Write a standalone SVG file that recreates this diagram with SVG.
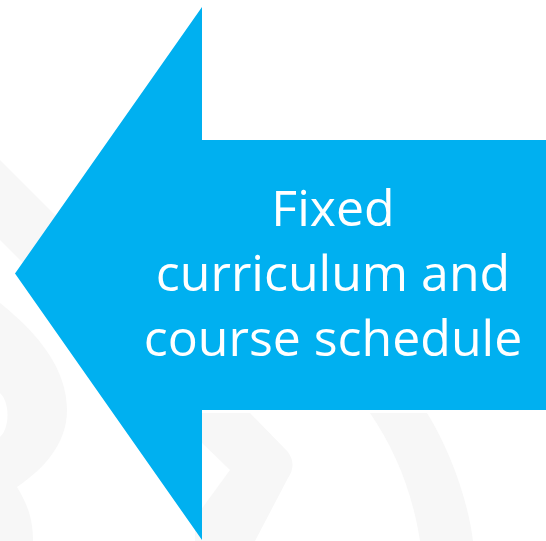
<svg xmlns="http://www.w3.org/2000/svg" width="546" height="541" viewBox="0 0 546 541">
<style>
.wm{fill:#f7f7f7}
.arrow{fill:#00b0f0}
.lbl{fill:#ffffff;font-family:"Open Sans","Liberation Sans",sans-serif;font-size:50px;text-anchor:middle}
</style>
<rect width="546" height="541" fill="#ffffff"/>
<g id="watermark">
<polygon class="wm" points="0,160 100,260 60,300 0,240"/>
<path class="wm" d="M0,303 C40,335 67,370 67,410 C67,445 42,470 17,487 C28,505 33,520 33,541 L0,541 Z"/>
<path fill="#ffffff" d="M0,393 C10,402 10,428 0,437 Z"/>
<path class="wm" d="M195,413 L250,413 L288,452 Q297,465 288,478 L255,541 L195,541 Z"/>
<polygon fill="#ffffff" points="195,436 230,470 195,518"/>
<path class="wm" d="M370,413 L427,413 C450,450 468,500 473,541 L420,541 C412,490 395,450 370,413 Z"/>
</g>
<g id="connectors"></g>
<g id="arrow-node">
<polygon class="arrow" points="15,273.5 202,7 202,140 546,140 546,410 202,410 202,540"/>
<text class="lbl" x="333" y="226">Fixed</text>
<text class="lbl" x="333" y="291">curriculum and</text>
<text class="lbl" x="333" y="356">course schedule</text>
</g>
</svg>
